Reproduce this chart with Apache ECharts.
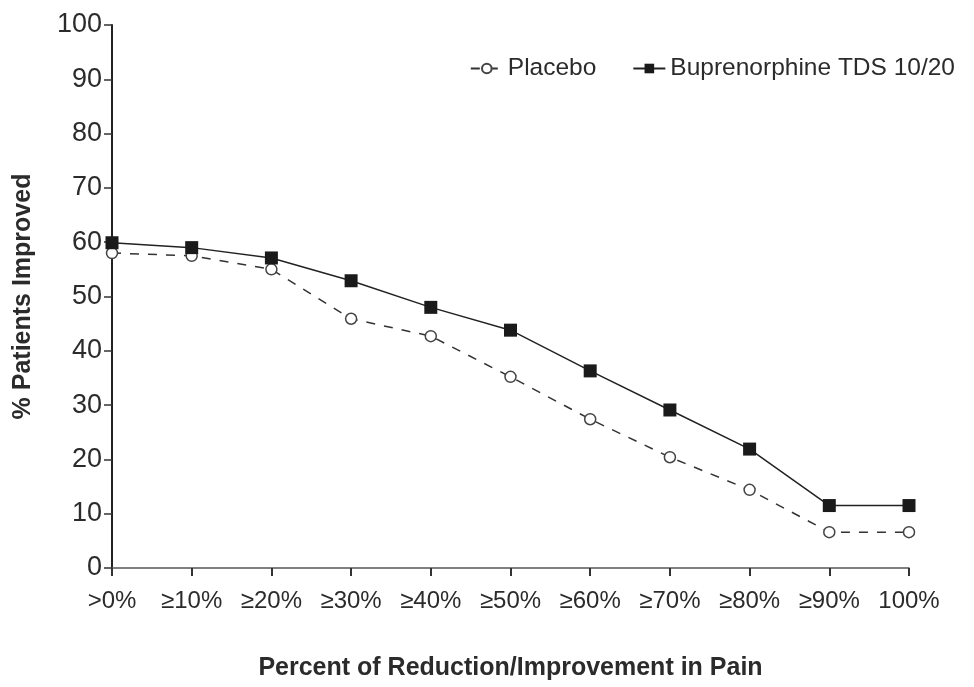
<!DOCTYPE html>
<html>
<head>
<meta charset="utf-8">
<script src="https://cdn.jsdelivr.net/npm/echarts@6/dist/echarts.min.js"></script>
<style>
  html, body { margin: 0; padding: 0; background: #fff; }
  #chart { width: 974px; height: 687px; }
</style>
</head>
<body>
<div id="chart"></div>
<script>
// categories on the x axis
const categories = ['>0%', '≥10%', '≥20%', '≥30%', '≥40%', '≥50%', '≥60%', '≥70%', '≥80%', '≥90%', '100%'];
// % patients improved
const placebo = [58.0, 57.5, 55.0, 45.9, 42.7, 35.2, 27.4, 20.4, 14.4, 6.6, 6.6];
const buprenorphine = [59.9, 59.0, 57.1, 52.9, 48.0, 43.8, 36.3, 29.1, 21.9, 11.5, 11.5];

const font = '"Liberation Sans", Arial, sans-serif';
const ink = '#2b2b2b';

const chart = echarts.init(document.getElementById('chart'));

chart.setOption({
  animation: false,
  textStyle: { fontFamily: font },
  grid: { left: 112, top: 25, right: 65, bottom: 119 },
  legend: {
    right: 14,
    top: 51,
    itemWidth: 32,
    itemHeight: 12,
    itemGap: 36,
    textStyle: { fontFamily: font, fontSize: 24.5, color: ink },
    data: ['Placebo', 'Buprenorphine TDS 10/20']
  },
  xAxis: {
    type: 'category',
    data: categories,
    boundaryGap: false,
    name: 'Percent of Reduction/Improvement in Pain',
    nameLocation: 'middle',
    nameGap: 88,
    nameTextStyle: { fontFamily: font, fontSize: 25, fontWeight: 'bold', color: ink },
    axisLine: { lineStyle: { color: '#555', width: 1.5 } },
    axisTick: { show: true, alignWithLabel: true, interval: 0, length: 8, lineStyle: { color: '#333', width: 2 } },
    axisLabel: { fontFamily: font, fontSize: 24, color: ink, margin: 21, interval: 0, hideOverlap: false },
    splitLine: { show: false }
  },
  yAxis: {
    type: 'value',
    min: 0,
    max: 100,
    interval: 10,
    name: '% Patients Improved',
    nameLocation: 'middle',
    nameGap: 76,
    nameTextStyle: { fontFamily: font, fontSize: 25, fontWeight: 'bold', color: ink },
    axisLine: { show: true, lineStyle: { color: '#222', width: 2 } },
    axisTick: { show: true, length: 8, lineStyle: { color: '#333', width: 1.5 } },
    axisLabel: { fontFamily: font, fontSize: 27, color: ink, margin: 10 },
    splitLine: { show: false }
  },
  series: [
    {
      name: 'Placebo',
      type: 'line',
      data: placebo,
      symbol: 'circle',
      symbolSize: 11,
      lineStyle: { color: '#333', width: 1.5, type: [9, 9] },
      itemStyle: { color: '#fff', borderColor: '#444', borderWidth: 1.5 },
      z: 2
    },
    {
      name: 'Buprenorphine TDS 10/20',
      type: 'line',
      data: buprenorphine,
      symbol: 'rect',
      symbolSize: 13,
      lineStyle: { color: '#222', width: 1.5 },
      itemStyle: { color: '#1a1a1a' },
      z: 3
    }
  ]
});
</script>
</body>
</html>
